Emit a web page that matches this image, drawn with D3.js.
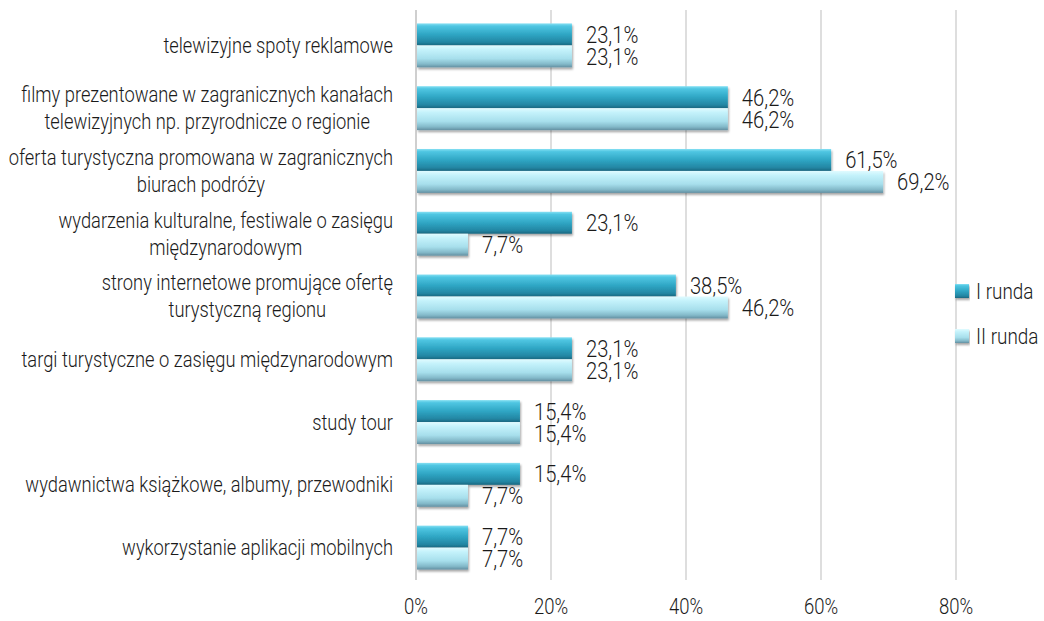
<!DOCTYPE html>
<html><head><meta charset="utf-8">
<script src="https://cdn.jsdelivr.net/npm/d3@7"></script>
<style>body{margin:0;background:#fff}svg{display:block}text{font-family:Roboto,"Liberation Sans",sans-serif;font-weight:300;fill:#1a1a1a}</style>
</head><body><svg id="c" width="1044" height="621"></svg>
<script>
const categories = [
  ["telewizyjne spoty reklamowe"],
  ["filmy prezentowane w zagranicznych kanałach","telewizyjnych np. przyrodnicze o regionie"],
  ["oferta turystyczna promowana w zagranicznych","biurach podróży"],
  ["wydarzenia kulturalne, festiwale o zasięgu","międzynarodowym"],
  ["strony internetowe promujące ofertę","turystyczną regionu"],
  ["targi turystyczne o zasięgu międzynarodowym"],
  ["study tour"],
  ["wydawnictwa książkowe, albumy, przewodniki"],
  ["wykorzystanie aplikacji mobilnych"]
];
const seriesNames = ["I runda","II runda"];
const round1 = [23.1,46.2,61.5,23.1,38.5,23.1,15.4,15.4,7.7];
const round2 = [23.1,46.2,69.2,7.7,46.2,23.1,15.4,7.7,7.7];
const ticks = [0,20,40,60,80];

const SX = 0.86;
const svg = d3.select("#c");
const defs = svg.append("defs");
function grad(id, stops){
  const g = defs.append("linearGradient").attr("id",id).attr("x1",0).attr("y1",0).attr("x2",0).attr("y2",1);
  stops.forEach(s=>g.append("stop").attr("offset",s[0]).attr("stop-color",s[1]));
}
grad("g1",[[0,"#86e0f3"],[0.12,"#4fc6e2"],[0.5,"#2fa6c4"],[0.85,"#2386a3"],[1,"#196780"]]);
grad("g2",[[0,"#e0fbff"],[0.2,"#c4f2fb"],[0.6,"#a7dfec"],[0.85,"#83b9c9"],[1,"#638fa1"]]);
const f = defs.append("filter").attr("id","sh").attr("x","-5%").attr("y","-20%").attr("width","110%").attr("height","160%");
f.append("feDropShadow").attr("dx",1).attr("dy",2).attr("stdDeviation",1.2).attr("flood-color","#000").attr("flood-opacity",0.35);

const x = d3.scaleLinear().domain([0,80]).range([416,956]);
const y = d3.scaleBand().domain(d3.range(categories.length)).range([14,579]).paddingInner(0.3).paddingOuter(0.15);
const ys = d3.scaleBand().domain([0,1]).range([0,y.bandwidth()]);

// gridlines
svg.append("g").selectAll("line").data(ticks).join("line")
  .attr("x1",d=>x(d)).attr("x2",d=>x(d)).attr("y1",10).attr("y2",580)
  .attr("stroke",d=>d===0?"#cfcfcf":"#dedede").attr("stroke-width",2);

// tick labels
svg.append("g").selectAll("text").data(ticks).join("text")
  .attr("transform",d=>`translate(${x(d)},614) scale(${SX},1)`)
  .attr("text-anchor","middle").attr("font-size",21.5).text(d=>d+"%");

const fmt = v => v.toFixed(1).replace(".",",")+"%";
const series = [round1, round2];
series.forEach((vals,si)=>{
  const g = svg.append("g");
  g.selectAll("rect").data(vals).join("rect")
    .attr("x",x(0)+1).attr("y",(d,i)=>y(i)+ys(si)).attr("height",ys.bandwidth())
    .attr("width",d=>x(d)-x(0)-1).attr("fill",`url(#g${si+1})`).attr("filter","url(#sh)");
  g.selectAll("text").data(vals).join("text")
    .attr("transform",(d,i)=>`translate(${x(d)+14},${y(i)+ys(si)+ys.bandwidth()/2}) scale(${SX},1)`)
    .attr("dy","0.36em").attr("font-size",23.5).text(d=>fmt(d));
});

// category labels
const lg = svg.append("g");
categories.forEach((lines,i)=>{
  const cy = y(i)+y.bandwidth()/2;
  const lh = 27;
  const g = lg.append("g").attr("transform",`translate(393,${cy}) scale(${SX},1)`);
  const t = g.append("text").attr("text-anchor","middle").attr("font-size",21.3);
  lines.forEach((l,k)=>t.append("tspan").attr("x",0).attr("y",(k-(lines.length-1)/2)*lh).attr("dy","0.35em").text(l));
  let w = 0; t.selectAll("tspan").each(function(){w=Math.max(w,this.getComputedTextLength());});
  t.selectAll("tspan").attr("x",-w/2);
});

// legend
const leg = svg.append("g");
seriesNames.forEach((n,i)=>{
  const ly = 291 + i*45;
  leg.append("rect").attr("x",955).attr("y",ly-7).attr("width",14).attr("height",14).attr("fill",`url(#g${i+1})`).attr("filter","url(#sh)");
  leg.append("text").attr("transform",`translate(976,${ly}) scale(${SX},1)`).attr("dy","0.36em").attr("font-size",22).text(n);
});
</script></body></html>
